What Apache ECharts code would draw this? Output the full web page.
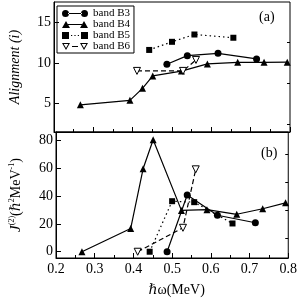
<!DOCTYPE html>
<html><head><meta charset="utf-8">
<script src="https://cdn.jsdelivr.net/npm/echarts@6/dist/echarts.min.js"></script>
<style>html,body{margin:0;padding:0;background:#fff}#c{width:300px;height:298px}</style>
</head><body><div id="c"></div>
<script>
// ---- data ----
const xB3 = [0.487, 0.539, 0.617, 0.715];
const alignB3 = [9.84, 10.9, 11.18, 10.5];
const j2B3 = [0, 40.8, 26.2, 20.8];

const xB4 = [0.267, 0.393, 0.425, 0.451, 0.524, 0.590, 0.667, 0.734, 0.793];
const alignB4 = [4.84, 5.4, 6.87, 8.4, 9.0, 9.88, 10.08, 10.08, 10.1];
const j2B4 = [0, 16.7, 59.6, 80.4, 29.7, 30.2, 26.9, 30.9, 35.1];

const xB5 = [0.442, 0.500, 0.557, 0.656];
const alignB5 = [11.6, 12.6, 13.5, 13.1];
const j2B5 = [0, 36.3, 35.6, 20.3];

const xB6 = [0.411, 0.528, 0.561];
const alignB6 = [9.02, 9.02, 10.37];
const j2B6 = [0, 17.2, 59.2];

const xTicks = [0.2, 0.3, 0.4, 0.5, 0.6, 0.7, 0.8];
const alignTicks = [5, 10, 15];
const alignMinor = [2.5, 7.5, 12.5];
const j2Ticks = [0, 20, 40, 60, 80];
const j2Minor = [10, 30, 50, 70];

const FF = '"Liberation Serif","DejaVu Serif",serif';
const pair = (xs, ys) => xs.map((x, i) => [x, ys[i]]);

const icons = {
  'band B3': 'path://M0,3.5A3.5,3.5 0 1 0 7,3.5A3.5,3.5 0 1 0 0,3.5Z M6,2.9H20V4.1H6Z M19,3.5A3.5,3.5 0 1 0 26,3.5A3.5,3.5 0 1 0 19,3.5Z',
  'band B4': 'path://M0,7L4,0L8,7Z M6,2.9H20V4.1H6Z M18,7L22,0L26,7Z',
  'band B5': 'path://M0,0H7V7H0Z M9,2.9H10.2V4.1H9Z M12.4,2.9H13.6V4.1H12.4Z M15.8,2.9H17V4.1H15.8Z M19,0H26V7H19Z',
  'band B6': 'path://M0,0L8,0L4,7Z M1.7,1L4,5L6.3,1Z M10,2.9H16V4.1H10Z M18,0L26,0L22,7Z M19.7,1L22,5L24.3,1Z'
};

const chart = echarts.init(document.getElementById('c'), null, {renderer: 'canvas'});

const xAxisCommon = (gi, showLabel) => ({
  gridIndex: gi, type: 'value', min: 0.2, max: 0.8, interval: 0.1,
  axisLine: {show: true, onZero: false, lineStyle: {color: '#000', width: 1}},
  axisTick: {show: true, inside: true, length: 5, lineStyle: {color: '#000'}},
  minorTick: {show: true, splitNumber: 2, length: 3, lineStyle: {color: '#000'}},
  splitLine: {show: false},
  axisLabel: {show: showLabel, color: '#000', fontFamily: FF, fontSize: 14, margin: 4,
    formatter: v => v.toFixed(1)},
  name: showLabel ? 'ℏω(MeV)' : '', nameLocation: 'middle', nameGap: 25,
  nameTextStyle: {color: '#000', fontFamily: FF, fontSize: 14, padding: [0, 0, 0, 9]}
});

const yMain = (gi, min, max, ticks, name, nameStyle) => ({
  gridIndex: gi, type: 'value', min: min, max: max,
  axisLine: {show: true, onZero: false, lineStyle: {color: '#000', width: 1}},
  axisTick: {show: true, inside: true, length: 5, customValues: ticks, lineStyle: {color: '#000'}},
  axisLabel: {show: true, customValues: ticks, color: '#000', fontFamily: FF, fontSize: 14, margin: 3},
  splitLine: {show: false},
  name: name, nameLocation: 'middle', nameGap: 32, nameRotate: 90,
  nameTextStyle: nameStyle
});
const yMinor = (gi, min, max, ticks) => ({
  gridIndex: gi, type: 'value', min: min, max: max,
  axisLine: {show: false},
  axisTick: {show: true, inside: true, length: 3, customValues: ticks, lineStyle: {color: '#000'}},
  axisLabel: {show: false},
  splitLine: {show: false}
});

const lineSeries = (name, xi, yi, data, symbol, size, ltype, extra) => Object.assign({
  name: name, type: 'line', xAxisIndex: xi, yAxisIndex: yi, data: data,
  symbol: symbol, symbolSize: size, showSymbol: true,
  lineStyle: {color: '#000', width: 1.2, type: ltype},
  itemStyle: {color: '#000'},
  emphasis: {disabled: true}, animation: false
}, extra || {});

const openTri = 'path://M0,0L10,0L5,9Z';
const openStyle = {itemStyle: {color: '#fff', borderColor: '#000', borderWidth: 1}};

chart.setOption({
  backgroundColor: '#fff',
  animation: false,
  grid: [
    {left: 47, right: 10, top: 2, height: 130, show: true, borderColor: '#000', borderWidth: 1},
    {left: 47, right: 10, top: 132, height: 128, show: true, borderColor: '#000', borderWidth: 1}
  ],
  xAxis: [xAxisCommon(0, false), xAxisCommon(1, true)],
  yAxis: [
    yMain(0, 1.5, 17.5, alignTicks, 'Alignment (i)',
      {color: '#000', fontFamily: FF, fontSize: 14, fontStyle: 'italic'}),
    yMinor(0, 1.5, 17.5, alignMinor),
    yMain(1, -4.5, 86, j2Ticks,
      '{j|J}{s|(2)}{n|(ℏ}{s|2}{n|MeV}{s|-1}{n|)}',
      {color: '#000', fontFamily: FF, fontSize: 14,
       rich: {
         j: {fontFamily: FF, fontSize: 15, fontStyle: 'italic', color: '#000'},
         s: {fontFamily: FF, fontSize: 8, color: '#000', verticalAlign: 'top', padding: [0, 0, 8, 0]},
         n: {fontFamily: FF, fontSize: 14, color: '#000'}
       }}),
    yMinor(1, -4.5, 86, j2Minor)
  ],
  legend: {
    orient: 'vertical', left: 57, top: 6, selectedMode: false,
    borderColor: '#000', borderWidth: 1, borderRadius: 0, padding: [2, 4, 1, 5],
    itemWidth: 26, itemHeight: 7, itemGap: 0,
    textStyle: {fontFamily: FF, fontSize: 11, color: '#000'},
    data: ['band B3', 'band B4', 'band B5', 'band B6'].map(n => ({
      name: n, icon: icons[n], itemStyle: {color: '#000', borderWidth: 0}
    }))
  },
  graphic: [
    {type: 'text', left: 259, top: 10, style: {text: '(a)', fontFamily: FF, fontSize: 14, fill: '#000'}},
    {type: 'text', left: 261, top: 146, style: {text: '(b)', fontFamily: FF, fontSize: 14, fill: '#000'}}
  ],
  series: [
    lineSeries('band B3', 0, 0, pair(xB3, alignB3), 'circle', 7, 'solid'),
    lineSeries('band B4', 0, 0, pair(xB4, alignB4), 'triangle', 7, 'solid'),
    lineSeries('band B5', 0, 0, pair(xB5, alignB5), 'rect', 6, [1.5, 3]),
    lineSeries('band B6', 0, 0, pair(xB6, alignB6), openTri, 7, [5, 3], openStyle),
    lineSeries('band B3', 1, 2, pair(xB3, j2B3), 'circle', 7, 'solid'),
    lineSeries('band B4', 1, 2, pair(xB4, j2B4), 'triangle', 7, 'solid'),
    lineSeries('band B5', 1, 2, pair(xB5, j2B5), 'rect', 6, [1.5, 3]),
    lineSeries('band B6', 1, 2, pair(xB6, j2B6), openTri, 7, [5, 3], openStyle)
  ]
});
</script></body></html>
